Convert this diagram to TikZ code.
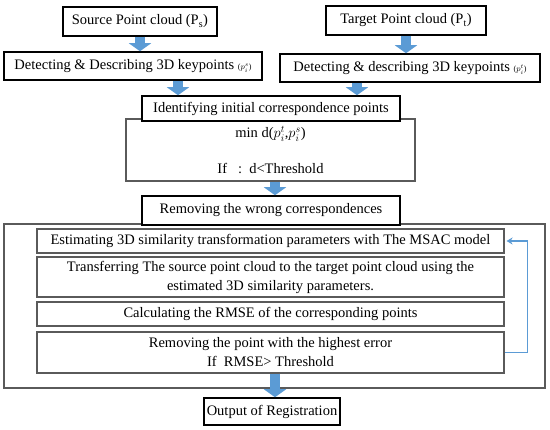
\documentclass[tikz,border=0pt]{standalone}
\usepackage{fontspec}
\setmainfont{Liberation Serif}
\usetikzlibrary{arrows.meta,calc}
\definecolor{arrblue}{HTML}{5B9BD5}
\definecolor{boxgray}{HTML}{5A5A5A}
\begin{document}
\begin{tikzpicture}[x=1pt,y=-1pt,
  blk/.style={draw=black, line width=1.5pt, fill=white, inner sep=0pt, font=\fontsize{14.5}{19}\selectfont, align=center},
  gry/.style={draw=boxgray, line width=1.1pt, fill=white, inner sep=0pt, font=\fontsize{14.5}{19}\selectfont, align=center},
  bigarrow/.style={draw=arrblue, line width=10pt, line cap=butt, -{Triangle[width=22pt,length=8pt]}},
  fbarrow/.style={draw=arrblue, line width=1.6pt, -{Stealth[length=6pt,width=7pt]}, shorten >=2pt}
]
\useasboundingbox (0,0) rectangle (550,430);
% top row
\node[blk, minimum width=154pt, minimum height=29pt] (src) at (140,21.5) {Source Point cloud (P\textsubscript{s})};
\node[blk, minimum width=160pt, minimum height=29pt] (tgt) at (406,20.5) {Target Point cloud (P\textsubscript{t})};
\node[blk, minimum width=258pt, minimum height=28pt] (dets) at (133,66) {Detecting \& Describing 3D keypoints {\fontsize{8}{9}\selectfont($p_i^s$)}};
\node[blk, minimum width=260pt, minimum height=28pt] (dett) at (410,68) {Detecting \& describing 3D keypoints {\fontsize{8}{9}\selectfont($p_i^t$)}};
% correspondence
\node[gry, minimum width=289pt, minimum height=62pt] (minb) at (270.5,150) {min d($p_i^t$,$p_i^s$)\\[17pt]If\ \ \ :\ \ d<Threshold};
\node[blk, minimum width=258pt, minimum height=25pt] (ident) at (271,108.5) {Identifying initial correspondence points};
% outer frame
\node[gry, minimum width=541pt, minimum height=164pt] (outer) at (274.5,306) {};
\node[blk, minimum width=258pt, minimum height=29pt] (remw) at (271,210.5) {Removing the wrong correspondences};
\node[gry, minimum width=467pt, minimum height=24pt] (est) at (270.5,241) {Estimating 3D similarity transformation parameters with The MSAC model};
\node[gry, minimum width=467pt, minimum height=40pt] (trans) at (270.5,277) {Transferring The source point cloud to the target point cloud using the\\estimated 3D similarity parameters.};
\node[gry, minimum width=467pt, minimum height=24pt] (calc) at (270.5,314) {Calculating the RMSE of the corresponding points};
\node[gry, minimum width=467pt, minimum height=41pt] (remp) at (270.5,352.5) {Removing the point with the highest error\\If\ \ RMSE> Threshold};
\node[blk, minimum width=136pt, minimum height=27pt] (outp) at (272,411.5) {Output of Registration};
% arrows
\coordinate (x3) at (178,0);
\coordinate (x4) at (357,0);
\coordinate (x5) at (275,0);
\draw[bigarrow] (src.south) -- (src.south |- dets.north);
\draw[bigarrow] (tgt.south) -- (tgt.south |- dett.north);
\draw[bigarrow] (dets.south -| x3) -- (ident.north -| x3);
\draw[bigarrow] (dett.south -| x4) -- (ident.north -| x4);
\draw[bigarrow] (minb.south -| x5) -- (remw.north -| x5);
\draw[bigarrow] (remp.south -| x5) -- (outp.north -| x5);
\draw[fbarrow] (remp.east) -- ++(23,0) |- (est.east);
\end{tikzpicture}
\end{document}
